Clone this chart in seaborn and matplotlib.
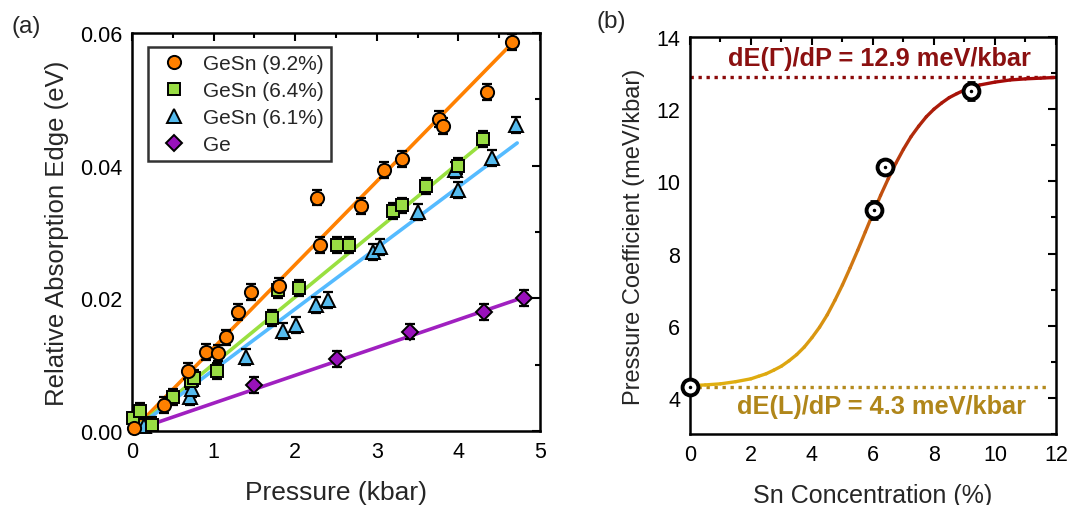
import numpy as np
import pandas as pd
import seaborn as sns
import matplotlib
matplotlib.use("Agg")
import matplotlib.pyplot as plt
from matplotlib.collections import LineCollection
from matplotlib.colors import LinearSegmentedColormap
from matplotlib.ticker import MultipleLocator
from matplotlib.lines import Line2D

# %% panel (a) data: relative absorption edge (eV) vs pressure (kbar)
gesn92_p = [0.03, 0.39, 0.69, 0.91, 1.05, 1.15, 1.3, 1.46, 1.8, 2.27, 2.3, 2.8, 3.09, 3.31, 3.76, 3.81, 4.35, 4.66]
gesn92_e = [0.0005, 0.0039, 0.0091, 0.0119, 0.0118, 0.0141, 0.018, 0.021, 0.0219, 0.0352, 0.028, 0.0339,
            0.0393, 0.041, 0.047, 0.046, 0.0511, 0.0587]
gesn64_p = [0.01, 0.1, 0.25, 0.5, 0.72, 0.76, 1.04, 1.71, 1.79, 2.05, 2.51, 2.66, 3.2, 3.31, 3.6, 4.0, 4.3]
gesn64_e = [0.002, 0.003, 0.0009, 0.0051, 0.0075, 0.008, 0.0091, 0.0171, 0.0212, 0.0216, 0.028, 0.028,
            0.0331, 0.034, 0.037, 0.040, 0.044]
gesn61_p = [0.15, 0.71, 0.73, 1.4, 1.85, 2.01, 2.26, 2.4, 2.95, 3.04, 3.5, 3.96, 4.0, 4.41, 4.7]
gesn61_e = [0.0008, 0.0051, 0.0064, 0.0112, 0.0151, 0.016, 0.019, 0.0197, 0.027, 0.0278, 0.033, 0.0393,
            0.0363, 0.0411, 0.0461]
ge_p = [1.5, 2.51, 3.41, 4.31, 4.8]
ge_e = [0.007, 0.0109, 0.015, 0.018, 0.020]
edge_err = 0.0012

series_names = ["GeSn (9.2%)", "GeSn (6.4%)", "GeSn (6.1%)", "Ge"]
# linear fits through the origin: slope (eV/kbar) and last pressure of the line
fit_slopes = [0.01255, 0.0101, 0.0092, 0.0042]
fit_pmax = [4.66, 4.3, 4.72, 4.8]

# %% panel (b) data: pressure coefficient vs Sn concentration
sn_conc = [0, 6.05, 6.4, 9.2]
press_coef = [4.3, 9.2, 10.4, 12.5]
coef_err = [0.15, 0.25, 0.15, 0.25]
conc_err = [0.15, 0.15, 0.15, 0.15]
# fitted curve
curve_x = [0, 0.5, 1, 1.5, 2, 2.25, 2.5, 2.75, 3, 3.25, 3.5, 3.75, 4, 4.25, 4.5, 4.75, 5, 5.25, 5.5,
           5.75, 6, 6.25, 6.5, 6.75, 7, 7.25, 7.5, 7.75, 8, 8.25, 8.5, 8.75, 9, 9.5, 10, 10.5, 11, 11.5, 12]
curve_y = [4.34, 4.36, 4.39, 4.45, 4.53, 4.60, 4.67, 4.77, 4.88, 5.03, 5.20, 5.41, 5.67, 5.96, 6.30, 6.70,
           7.13, 7.60, 8.09, 8.60, 9.11, 9.61, 10.07, 10.50, 10.89, 11.24, 11.53, 11.79, 12.0, 12.17, 12.32,
           12.43, 12.53, 12.67, 12.75, 12.81, 12.84, 12.86, 12.88]
gamma_coef = 12.9
l_coef = 4.3


def style_axes(ax):
    for s in ax.spines.values():
        s.set_linewidth(1.8)
        s.set_color("black")
    ax.tick_params(which="both", direction="in", top=True, right=True, width=1.5, labelsize=15.5,
                   colors="black", pad=7)
    ax.tick_params(which="major", length=6)
    ax.tick_params(which="minor", length=3.5)


def main():
    sns.set_theme(style="white")
    plt.rcParams["font.family"] = ["Liberation Sans", "DejaVu Sans"]

    fig = plt.figure(figsize=(10.84, 5.06), dpi=100)
    ax1 = fig.add_axes([0.1218, 0.1462, 0.3764, 0.7866])
    ax2 = fig.add_axes([0.6365, 0.1403, 0.3376, 0.7846])

    # %% (a)
    xs = [gesn92_p, gesn64_p, gesn61_p, ge_p]
    ys = [gesn92_e, gesn64_e, gesn61_e, ge_e]
    face = ["#FF8000", "#99DD44", "#55BBEE", "#9911BB"]
    line_c = ["#FF8000", "#99E040", "#55BBFF", "#A020C0"]
    marks = ["o", "s", "^", "D"]
    msize = [9.5, 8, 10.5, 8.5]

    for k in range(4):
        fit = pd.DataFrame({"p": [0, fit_pmax[k]], "e": [0, fit_slopes[k] * fit_pmax[k]]})
        sns.lineplot(data=fit, x="p", y="e", ax=ax1, color=line_c[k], lw=2.6, zorder=2)

    for k in range(3, -1, -1):
        ax1.errorbar(xs[k], ys[k], yerr=edge_err, fmt="none", ecolor="black", elinewidth=1.6,
                     capsize=3.5, capthick=1.6, zorder=3)
        ax1.plot(xs[k], ys[k], ls="none", marker=marks[k], ms=msize[k], mfc=face[k], mec="black",
                 mew=1.4, zorder=4, clip_on=False)

    ax1.set_xlim(0, 5)
    ax1.set_ylim(0, 0.06)
    ax1.xaxis.set_major_locator(MultipleLocator(1))
    ax1.xaxis.set_minor_locator(MultipleLocator(0.5))
    ax1.yaxis.set_major_locator(MultipleLocator(0.02))
    ax1.yaxis.set_minor_locator(MultipleLocator(0.01))
    ax1.set_yticklabels(["%.2f" % v for v in ax1.get_yticks()])
    ax1.set_xlabel("Pressure (kbar)", fontsize=19, labelpad=13)
    ax1.set_ylabel("Relative Absorption Edge (eV)", fontsize=18.5, labelpad=8)
    style_axes(ax1)

    handles = [Line2D([], [], ls="none", marker=marks[k], ms=msize[k], mfc=face[k], mec="black", mew=1.4)
               for k in range(4)]
    leg = ax1.legend(handles, series_names, loc="upper left", bbox_to_anchor=(0.03, 0.975), fontsize=15,
                     frameon=True, fancybox=False, handletextpad=0.45, borderpad=0.35, labelspacing=0.38,
                     handlelength=1.8, borderaxespad=0.2)
    leg.get_frame().set_edgecolor("black")
    leg.get_frame().set_linewidth(1.8)

    # %% (b)
    cmap = LinearSegmentedColormap.from_list("gold_red", ["#E0B010", "#CC6A12", "#A30808"])
    pts = np.column_stack([curve_x, curve_y]).reshape(-1, 1, 2)
    segs = np.concatenate([pts[:-1], pts[1:]], axis=1)
    mid = 0.5 * (np.array(curve_y[:-1]) + np.array(curve_y[1:]))
    lc = LineCollection(segs, cmap=cmap, norm=plt.Normalize(l_coef, gamma_coef), linewidth=2.4,
                        capstyle="round", zorder=2)
    lc.set_array(mid)
    ax2.add_collection(lc)

    ax2.axhline(gamma_coef, color="#8B0A0A", lw=2.4, ls=(0, (1.0, 1.4)), zorder=1)
    ax2.plot([0, 11.8], [l_coef, l_coef], color="#B48A1E", lw=2.4, ls=(0, (1.0, 1.4)), zorder=1)

    ax2.errorbar(sn_conc, press_coef, xerr=conc_err, yerr=coef_err, fmt="none", ecolor="black",
                 elinewidth=2, capsize=3, capthick=2, zorder=3, clip_on=False)
    sns.scatterplot(x=sn_conc, y=press_coef, ax=ax2, marker="o", s=130, color="white", edgecolor="black",
                    linewidth=2.8, zorder=4, clip_on=False)
    ax2.plot(sn_conc, press_coef, ls="none", marker="o", ms=1.5, color="black", zorder=5, clip_on=False)

    ax2.text(6.2, 13.42, "dE(Γ)/dP = 12.9 meV/kbar", color="#8B1010", fontsize=18.3, fontweight="bold",
             ha="center", va="center")
    ax2.text(6.27, 3.78, "dE(L)/dP = 4.3 meV/kbar", color="#B0861A", fontsize=18.3, fontweight="bold",
             ha="center", va="center")

    ax2.set_xlim(0, 12)
    ax2.set_ylim(3, 14)
    ax2.xaxis.set_major_locator(MultipleLocator(2))
    ax2.xaxis.set_minor_locator(MultipleLocator(1))
    ax2.yaxis.set_major_locator(MultipleLocator(2))
    ax2.yaxis.set_minor_locator(MultipleLocator(1))
    ax2.set_xlabel("Sn Concentration (%)", fontsize=18, labelpad=13)
    ax2.set_ylabel("Pressure Coefficient (meV/kbar)", fontsize=17, labelpad=8)
    style_axes(ax2)

    fig.text(0.011, 0.935, "(a)", fontsize=17.5)
    fig.text(0.55, 0.945, "(b)", fontsize=17.5)

    fig.savefig("out.png", dpi=100)


if __name__ == "__main__":
    main()
